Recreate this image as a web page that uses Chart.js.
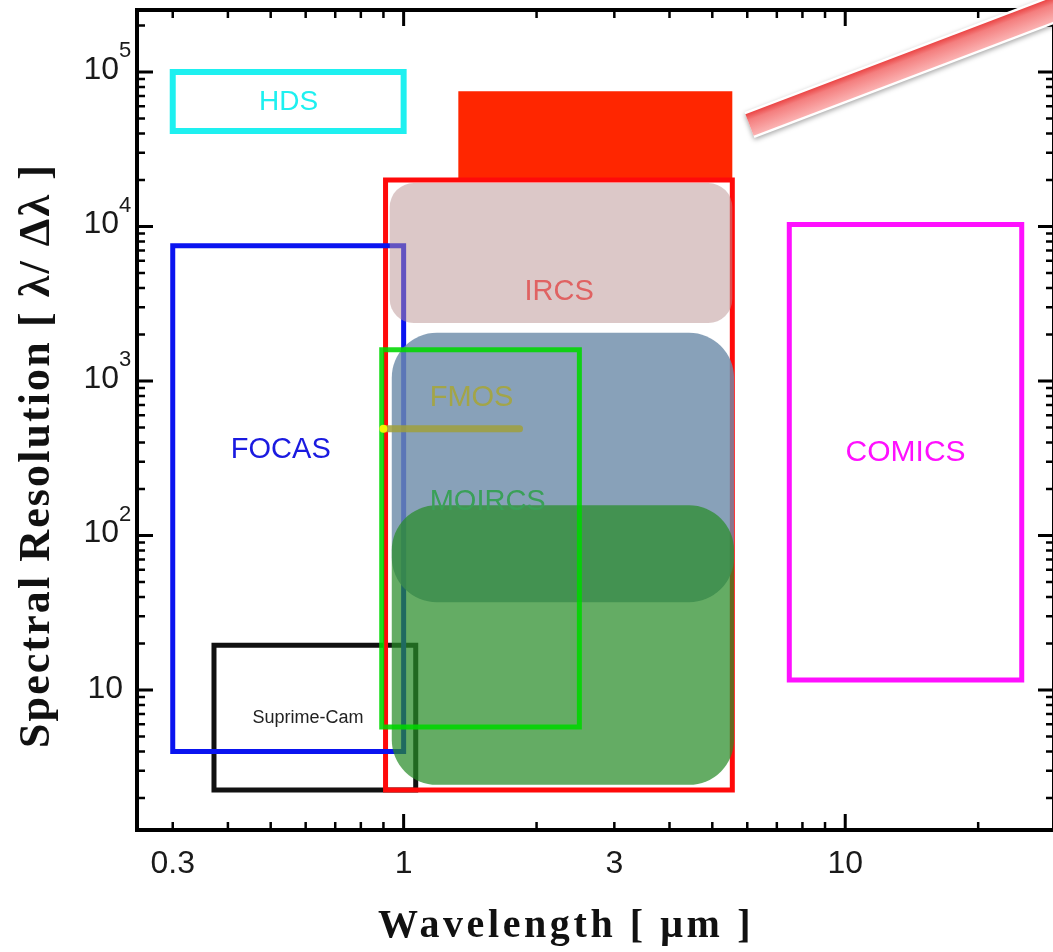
<!DOCTYPE html>
<html>
<head>
<meta charset="utf-8">
<script src="https://cdn.jsdelivr.net/npm/chart.js@4.4.1/dist/chart.umd.min.js"></script>
<style>
  html, body { margin: 0; padding: 0; background: #fff; overflow: hidden; }
  #wrap { position: relative; width: 1058px; height: 952px; }
</style>
</head>
<body>
<div id="wrap"><canvas id="specChart" width="1058" height="952"></canvas></div>
<script>
// axis ranges and labelled ticks
const lamRange = [0.249, 29.7];
const resRange = [1.24, 2.52e5];
const lamTicks = [0.3, 1, 3, 10];
const resTicks = [10, 100, 1000, 10000, 100000];
const resTickExp = ['', '2', '3', '4', '5'];

// instrument coverage boxes (outlines)
const boxNames  = ['HDS', 'FOCAS', 'IRCS', 'Suprime-Cam', 'COMICS', 'MOIRCS'];
const boxLamMin = [0.3, 0.3, 0.91, 0.372, 7.47, 0.892];
const boxLamMax = [1.0, 1.0, 5.55, 1.065, 25.1, 2.5];
const boxResMin = [4.15e4, 4, 2.25, 2.25, 11.6, 5.76];
const boxResMax = [1.0e5, 7500, 2.0e4, 19.5, 1.03e4, 1590];

// solid red block above IRCS
const blockLam = [1.33, 5.55];
const blockRes = [2.05e4, 7.5e4];

// translucent rounded regions (pink, blue-grey, green)
const regionLamMin = [0.93, 0.94, 0.94];
const regionLamMax = [5.55, 5.6, 5.6];
const regionResMin = [2370, 37, 2.43];
const regionResMax = [1.91e4, 2050, 157];

// FMOS line
const fmosLam = [0.9, 1.83];
const fmosRes = [490, 490];

// text labels
const labelText = ['HDS', 'IRCS', 'FMOS', 'FOCAS', 'MOIRCS', 'COMICS', 'Suprime-Cam'];
const labelLam  = [0.549, 2.25, 1.425, 0.527, 1.55, 13.7, 0.607];
const labelRes  = [6.39e4, 3770, 776, 357, 165, 342, 6.6];

// pointer stroke toward the upper right
const pointerLam = [6.07, 37.6];
const pointerRes = [4.54e4, 3.3e5];

const boxColors = ['#1ef0f0', '#0a14f0', '#ff0a0a', '#111111', '#ff10ff', 'rgba(0,215,0,0.88)'];
const regionColors = ['rgba(185,145,145,0.5)', 'rgba(110,140,170,0.82)', 'rgba(40,140,40,0.72)'];
const regionRadius = [24, 45, 45];
const labelColors = ['#1ef0f0', '#e06262', '#a3a548', '#1a1ae0', '#3aa058', '#ff10ff', '#222'];
const labelFonts = ['28px "Liberation Sans"', '29px "Liberation Sans"', '29px "Liberation Sans"',
  '29px "Liberation Sans"', '29px "Liberation Sans"', '30px "Liberation Sans"', '18px "Liberation Sans"'];

function boxPoints(a, b, c, d) {
  return [{x: a, y: c}, {x: b, y: c}, {x: b, y: d}, {x: a, y: d}, {x: a, y: c}];
}

const datasets = [];
// top group (order 0) - drawn after the translucent regions
datasets.push({
  label: 'FMOS', order: 0,
  data: fmosLam.map((l, i) => ({x: l, y: fmosRes[i]})),
  showLine: true, borderColor: 'rgba(160,160,60,0.85)', borderWidth: 7, borderCapStyle: 'round',
  pointRadius: [4, 0], pointBackgroundColor: '#f4f400', pointBorderWidth: 0
});
datasets.push({
  label: 'MOIRCS', order: 0,
  data: boxPoints(boxLamMin[5], boxLamMax[5], boxResMin[5], boxResMax[5]),
  showLine: true, borderColor: boxColors[5], borderWidth: 5, pointRadius: 0, borderCapStyle: 'square'
});
// under group (order 1)
for (let i = 0; i < 5; i++) {
  datasets.push({
    label: boxNames[i], order: 1,
    data: boxPoints(boxLamMin[i], boxLamMax[i], boxResMin[i], boxResMax[i]),
    showLine: true, borderColor: boxColors[i], borderWidth: i === 0 ? 6 : 5,
    pointRadius: 0, borderCapStyle: 'square'
  });
}
datasets.push({
  label: 'IRCS high-res', order: 1,
  data: boxPoints(blockLam[0], blockLam[1], blockRes[0], blockRes[1]),
  showLine: true, fill: 'shape', borderWidth: 0, borderColor: 'rgba(0,0,0,0)',
  backgroundColor: '#ff2600', pointRadius: 0
});

function roundBox(ctx, x, y, w, h, r) {
  ctx.beginPath();
  ctx.moveTo(x + r, y);
  ctx.arcTo(x + w, y, x + w, y + h, r);
  ctx.arcTo(x + w, y + h, x, y + h, r);
  ctx.arcTo(x, y + h, x, y, r);
  ctx.arcTo(x, y, x + w, y, r);
  ctx.closePath();
}

// stretch a title to the width it takes in the original figure
function spreadText(ctx, text, width) {
  ctx.letterSpacing = '0px';
  const w = ctx.measureText(text).width;
  ctx.letterSpacing = ((width - w) / text.length).toFixed(2) + 'px';
}

const decorPlugin = {
  id: 'decor',
  beforeDatasetsDraw(chart) { chart.$regionsDone = false; },
  beforeDatasetDraw(chart, args) {
    if (chart.$regionsDone || args.meta.order !== 0) return;
    chart.$regionsDone = true;
    const {ctx, scales: {x, y}} = chart;
    ctx.save();
    regionLamMin.forEach((l, i) => {
      const x1 = x.getPixelForValue(l), x2 = x.getPixelForValue(regionLamMax[i]);
      const y1 = y.getPixelForValue(regionResMax[i]), y2 = y.getPixelForValue(regionResMin[i]);
      roundBox(ctx, x1, y1, x2 - x1, y2 - y1, regionRadius[i]);
      ctx.fillStyle = regionColors[i];
      ctx.fill();
    });
    ctx.restore();
  },
  afterDatasetsDraw(chart) {
    const {ctx, scales: {x, y}} = chart;
    ctx.save();
    ctx.textAlign = 'center';
    ctx.textBaseline = 'middle';
    labelText.forEach((t, i) => {
      ctx.font = labelFonts[i];
      ctx.fillStyle = labelColors[i];
      ctx.fillText(t, x.getPixelForValue(labelLam[i]), y.getPixelForValue(labelRes[i]));
    });
    ctx.restore();
  },
  afterDraw(chart) {
    const {ctx, chartArea: a, scales: {x, y}} = chart;
    ctx.save();
    // frame
    ctx.strokeStyle = '#000';
    ctx.lineWidth = 4;
    ctx.strokeRect(a.left, a.top, a.right - a.left, a.bottom - a.top);

    // inward ticks on all four sides
    const decades = [0.01, 0.1, 1, 10, 100, 1000, 10000, 100000];
    decades.forEach(d => {
      for (let m = 1; m <= 9; m++) {
        const v = m * d;
        const len = m === 1 ? 16 : 8;
        ctx.lineWidth = m === 1 ? 3 : 2.5;
        if (v >= lamRange[0] && v <= lamRange[1]) {
          const px = x.getPixelForValue(v);
          ctx.beginPath();
          ctx.moveTo(px, a.bottom); ctx.lineTo(px, a.bottom - len);
          ctx.moveTo(px, a.top); ctx.lineTo(px, a.top + len);
          ctx.stroke();
        }
        if (v >= resRange[0] && v <= resRange[1]) {
          const py = y.getPixelForValue(v);
          ctx.beginPath();
          ctx.moveTo(a.left, py); ctx.lineTo(a.left + len, py);
          ctx.moveTo(a.right, py); ctx.lineTo(a.right - len, py);
          ctx.stroke();
        }
      }
    });

    // tick labels
    ctx.fillStyle = '#1a1a1a';
    ctx.font = '32px "Liberation Sans"';
    ctx.textAlign = 'center';
    ctx.textBaseline = 'middle';
    lamTicks.forEach(v => ctx.fillText(String(v), x.getPixelForValue(v), 864));
    resTicks.forEach((v, i) => {
      const py = y.getPixelForValue(v);
      ctx.textAlign = 'right';
      ctx.font = '32px "Liberation Sans"';
      if (resTickExp[i] === '') {
        ctx.fillText('10', 123, py - 1);
      } else {
        ctx.fillText('10', 119, py - 2);
        ctx.textAlign = 'left';
        ctx.font = '22px "Liberation Sans"';
        ctx.fillText(resTickExp[i], 119, py - 21);
      }
    });

    // axis titles
    ctx.fillStyle = '#111';
    ctx.textBaseline = 'alphabetic';
    ctx.textAlign = 'left';
    ctx.font = 'bold 40px "Liberation Serif"';
    const xTitle = 'Wavelength [ \u03bcm ]';
    spreadText(ctx, xTitle, 376);
    ctx.fillText(xTitle, 378, 937);
    ctx.save();
    ctx.font = 'bold 44px "Liberation Serif"';
    const yTitle = 'Spectral Resolution [ \u03bb/ \u0394\u03bb ]';
    spreadText(ctx, yTitle, 585);
    ctx.translate(49, 748);
    ctx.rotate(-Math.PI / 2);
    ctx.fillText(yTitle, 0, 0);
    ctx.restore();
    ctx.letterSpacing = '0px';

    // pointer stroke
    const p0 = {x: x.getPixelForValue(pointerLam[0]), y: y.getPixelForValue(pointerRes[0])};
    const p1 = {x: x.getPixelForValue(pointerLam[1]), y: y.getPixelForValue(pointerRes[1])};
    const ang = Math.atan2(p1.y - p0.y, p1.x - p0.x);
    const nx = -Math.sin(ang), ny = Math.cos(ang);
    ctx.lineCap = 'butt';
    ctx.shadowColor = 'rgba(0,0,0,0.35)';
    ctx.shadowBlur = 5;
    ctx.shadowOffsetY = 2;
    ctx.strokeStyle = '#ffffff';
    ctx.lineWidth = 28;
    ctx.beginPath(); ctx.moveTo(p0.x, p0.y); ctx.lineTo(p1.x, p1.y); ctx.stroke();
    ctx.shadowColor = 'rgba(0,0,0,0)';
    const g = ctx.createLinearGradient(p0.x - nx * 12, p0.y - ny * 12, p0.x + nx * 12, p0.y + ny * 12);
    g.addColorStop(0, '#ea4040');
    g.addColorStop(0.3, '#f47e7e');
    g.addColorStop(1, '#fbb4b4');
    ctx.strokeStyle = g;
    ctx.lineWidth = 23;
    ctx.beginPath(); ctx.moveTo(p0.x, p0.y); ctx.lineTo(p1.x, p1.y); ctx.stroke();
    ctx.restore();
  }
};

new Chart(document.getElementById('specChart'), {
  type: 'scatter',
  data: { datasets: datasets },
  options: {
    responsive: false,
    animation: false,
    layout: { padding: { top: 10, right: 3, left: 0, bottom: 0 } },
    plugins: { legend: { display: false }, tooltip: { enabled: false } },
    scales: {
      x: {
        type: 'logarithmic', min: lamRange[0], max: lamRange[1],
        ticks: { display: false }, grid: { display: false }, border: { display: false },
        afterFit: s => { s.height = 122; }
      },
      y: {
        type: 'logarithmic', min: resRange[0], max: resRange[1],
        ticks: { display: false }, grid: { display: false }, border: { display: false },
        afterFit: s => { s.width = 137; }
      }
    }
  },
  plugins: [decorPlugin]
});
</script>
</body>
</html>
